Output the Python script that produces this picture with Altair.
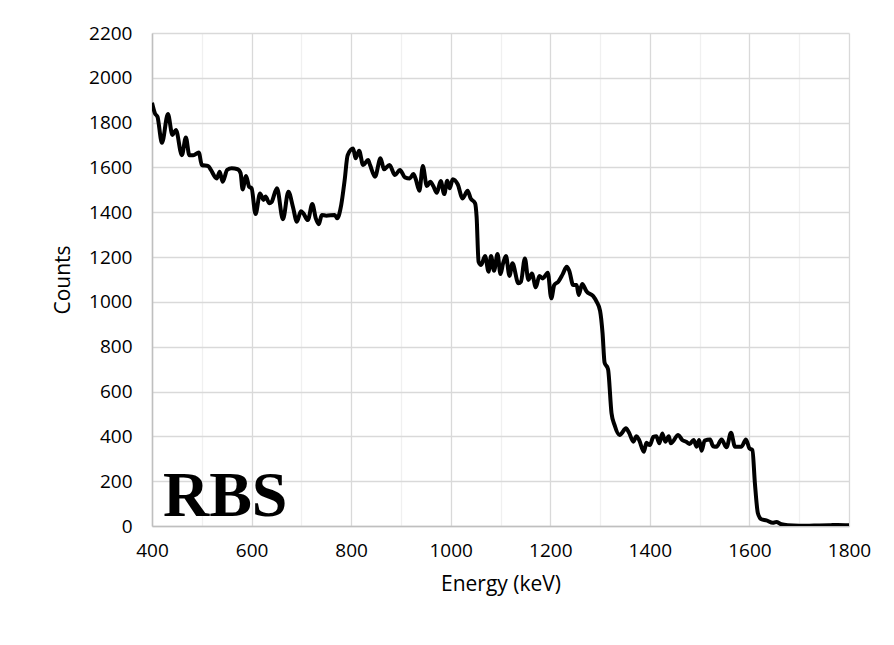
import altair as alt
import pandas as pd

energy = [400, 406, 411, 420, 432, 441, 448, 460, 468, 475, 483, 494, 500, 513, 518, 530, 536, 542, 551, 560,
          572, 578, 582, 589, 595, 600, 608, 617, 624, 628, 636, 640, 651, 663, 674, 683, 691, 699, 704, 713,
          722, 729, 735, 741, 750, 767, 772, 780, 787, 793, 804, 809, 816, 824, 834, 838, 848, 859, 866, 877,
          888, 898, 908, 918, 925, 930, 937, 944, 952, 959, 965, 972, 980, 987, 993, 998, 1004, 1014, 1024, 1034,
          1040, 1049, 1052, 1056, 1061, 1069, 1076, 1081, 1087, 1094, 1100, 1105, 1111, 1118, 1124, 1136, 1141, 1149, 1156, 1163,
          1171, 1178, 1185, 1195, 1202, 1208, 1216, 1225, 1233, 1238, 1246, 1253, 1257, 1264, 1273, 1286, 1293, 1300, 1305, 1309,
          1316, 1323, 1329, 1339, 1343, 1352, 1358, 1367, 1373, 1378, 1388, 1393, 1400, 1407, 1413, 1419, 1425, 1431, 1438, 1442,
          1457, 1465, 1473, 1480, 1488, 1494, 1499, 1504, 1510, 1521, 1527, 1534, 1544, 1554, 1563, 1571, 1584, 1593, 1600, 1606,
          1611, 1617, 1624, 1634, 1647, 1654, 1664, 1677, 1700, 1730, 1760, 1777, 1800]
counts = [1889, 1841, 1826, 1710, 1838, 1745, 1767, 1655, 1734, 1655, 1655, 1667, 1611, 1606, 1590, 1551, 1581, 1536, 1589, 1596,
          1592, 1574, 1502, 1562, 1514, 1507, 1392, 1484, 1455, 1470, 1440, 1445, 1507, 1369, 1492, 1425, 1358, 1405, 1395, 1365,
          1437, 1373, 1347, 1388, 1385, 1388, 1373, 1432, 1544, 1655, 1685, 1641, 1675, 1611, 1633, 1611, 1559, 1641, 1592, 1611,
          1566, 1589, 1556, 1551, 1571, 1546, 1496, 1606, 1517, 1536, 1517, 1487, 1539, 1481, 1541, 1507, 1547, 1525, 1462, 1496,
          1462, 1440, 1380, 1179, 1165, 1205, 1135, 1205, 1139, 1214, 1124, 1170, 1205, 1116, 1172, 1083, 1090, 1194, 1098, 1127,
          1065, 1116, 1105, 1130, 1016, 1075, 1090, 1124, 1157, 1139, 1075, 1075, 1031, 1080, 1046, 1026, 1001, 960, 860, 730,
          700, 503, 451, 406, 413, 436, 417, 376, 401, 386, 331, 371, 361, 398, 401, 369, 413, 376, 401, 369,
          406, 384, 376, 366, 384, 354, 384, 336, 381, 386, 356, 354, 386, 351, 416, 354, 354, 386, 346, 339,
          190, 57, 30, 25, 14, 18, 8, 3, 1, 2, 3, 5, 3]

x_ticks = list(range(400, 1801, 100))
y_ticks = list(range(0, 2201, 100))

label_text = ["RBS"]
label_x = [422]
label_y = [45]

df = pd.DataFrame({"Energy": energy, "Counts": counts})
ann = pd.DataFrame({"x": label_x, "y": label_y, "t": label_text})

FONT = "Open Sans"

xscale = alt.Scale(domain=[400, 1800], nice=False, zero=False)
yscale = alt.Scale(domain=[0, 2200], nice=False)

xaxis = alt.Axis(
    values=x_ticks,
    labelExpr="datum.value % 200 == 0 ? datum.label : ''",
    format="d",
    title="Energy (keV)",
    grid=True,
    gridColor=alt.condition("datum.value % 200 == 0", alt.value("#d9d9d9"), alt.value("#f0f0f0")),
    gridWidth=1.3,
    ticks=False,
    domainColor="#bfbfbf",
    domainWidth=1.5,
    labelFlush=False,
    labelFont=FONT,
    labelFontSize=19,
    labelColor="#000000",
    labelPadding=15,
    titleFont=FONT,
    titleFontSize=21,
    titleFontWeight="normal",
    titleColor="#000000",
    titlePadding=13,
)
yaxis = alt.Axis(
    values=y_ticks,
    labelExpr="datum.value % 200 == 0 ? datum.label : ''",
    format="d",
    title="Counts",
    grid=True,
    gridColor=alt.condition("datum.value % 200 == 0", alt.value("#d9d9d9"), alt.value("#f0f0f0")),
    gridWidth=1.3,
    ticks=False,
    domainColor="#bfbfbf",
    domainWidth=1.5,
    labelFont=FONT,
    labelFontSize=19,
    labelColor="#000000",
    labelPadding=20,
    titleFont=FONT,
    titleFontSize=21,
    titleFontWeight="normal",
    titleColor="#000000",
    titlePadding=15,
)

line = alt.Chart(df).mark_line(color="#000000", strokeWidth=4, interpolate="monotone", clip=True).encode(
    x=alt.X("Energy:Q", scale=xscale, axis=xaxis),
    y=alt.Y("Counts:Q", scale=yscale, axis=yaxis),
)

text = alt.Chart(ann).mark_text(
    font="Liberation Serif", fontWeight="bold", fontSize=64, align="left", baseline="alphabetic", color="#000000"
).encode(
    x=alt.X("x:Q", scale=xscale),
    y=alt.Y("y:Q", scale=yscale),
    text="t:N",
)

chart = alt.layer(line, text).properties(
    width=697,
    height=493,
    padding={"left": 144, "top": 25, "right": 37, "bottom": 111},
    autosize=alt.AutoSizeParams(type="none"),
    background="#ffffff",
).configure_view(stroke=None)

chart.save("out.html", embed_options={"renderer": "svg", "actions": False})
